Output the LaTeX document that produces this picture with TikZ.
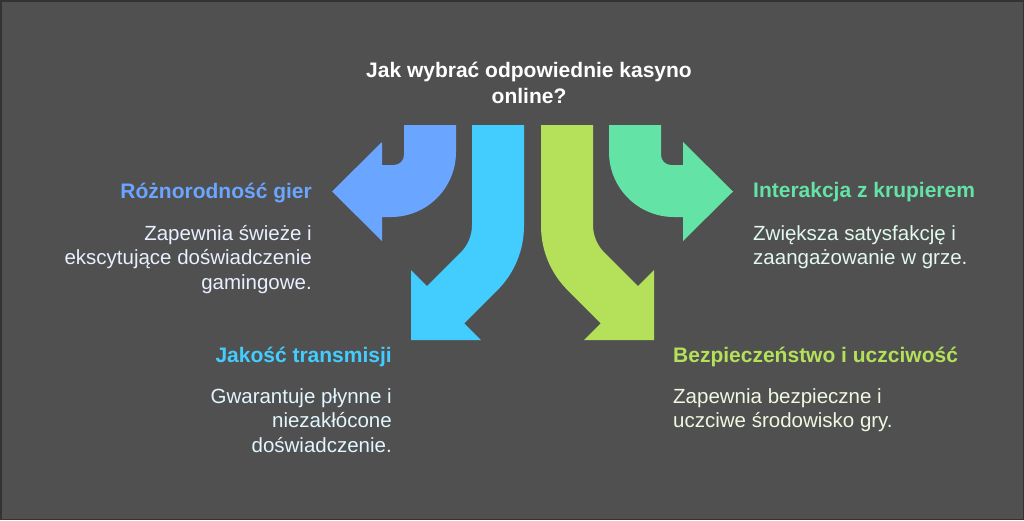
\documentclass[tikz,border=0pt]{standalone}
\usepackage{fontspec}
\setmainfont{Liberation Sans}
\definecolor{canvas}{HTML}{505050}
\definecolor{frame}{HTML}{333333}
\definecolor{variety}{HTML}{6AA6FF}
\definecolor{stream}{HTML}{42CDFE}
\definecolor{safety}{HTML}{B4E05A}
\definecolor{dealer}{HTML}{64E3A6}
\definecolor{varietytext}{HTML}{E8EFFF}
\definecolor{streamtext}{HTML}{E2F6FF}
\definecolor{safetytext}{HTML}{EFF8E0}
\definecolor{dealertext}{HTML}{E2F9EE}
\tikzstyle{question} = [font=\fontsize{21}{26}\selectfont\bfseries,text=white,align=center,inner sep=0pt]
\tikzstyle{heading}  = [font=\fontsize{21}{25}\selectfont\bfseries,inner sep=0pt]
\tikzstyle{detail}   = [font=\fontsize{20.5}{24.5}\selectfont,inner sep=0pt]

\begin{document}
\begin{tikzpicture}[x=1pt,y=-1pt]
      \useasboundingbox (0,0) rectangle (1024,520);
      \fill[frame]  (0,0) rectangle (1024,520);
      \fill[canvas] (1.5,1.5) rectangle (1022.5,518.5);

      % arrows
      \fill[variety] (404,125) -- (456,125) -- (456,152)
            .. controls (456,188) and (427,217) .. (391,217)
            -- (382,217) -- (382,241) -- (332,191.5) -- (382,142) -- (382,165) -- (394,165)
            .. controls (399.5,165) and (404,160.5) .. (404,155) -- cycle;
      \fill[stream] (472,125) -- (524,125) -- (524,226)
            .. controls (524,250.1) and (514.4,273.3) .. (497.3,290.3)
            -- (464.3,323.3) -- (481,340) -- (411,340) -- (411,270) -- (427.1,286.1) -- (460.6,252.6)
            .. controls (467.9,245.3) and (472,235.3) .. (472,225) -- cycle;
      \fill[safety] (593,125) -- (541,125) -- (541,226)
            .. controls (541,250.1) and (550.6,273.3) .. (567.7,290.3)
            -- (600.7,323.3) -- (584,340) -- (654,340) -- (654,270) -- (637.9,286.1) -- (604.4,252.6)
            .. controls (597.1,245.3) and (593,235.3) .. (593,225) -- cycle;
      \fill[dealer] (661,125) -- (609,125) -- (609,152)
            .. controls (609,188) and (638,217) .. (674,217)
            -- (683,217) -- (683,241) -- (733,191.5) -- (683,142) -- (683,165) -- (671,165)
            .. controls (665.5,165) and (661,160.5) .. (661,155) -- cycle;

      % texts (base = last line)
      \node (q)[question,anchor=base] at (529,103) {Jak wybrać odpowiednie kasyno\\online?};

      \node (h1)[heading,text=variety,anchor=base east] at (312,198) {Różnorodność gier};
      \node (d1)[detail,text=varietytext,align=right,anchor=base east] at (312,289)
            {Zapewnia świeże i\\ekscytujące doświadczenie\\gamingowe.};

      \node (h2)[heading,text=stream,anchor=base east] at (392,362) {Jakość transmisji};
      \node (d2)[detail,text=streamtext,align=right,anchor=base east] at (392,452)
            {Gwarantuje płynne i\\niezakłócone\\doświadczenie.};

      \node (h3)[heading,text=safety,anchor=base west] at (673,362) {Bezpieczeństwo i uczciwość};
      \node (d3)[detail,text=safetytext,align=left,anchor=base west] at (673,427.5)
            {Zapewnia bezpieczne i\\uczciwe środowisko gry.};

      \node (h4)[heading,text=dealer,anchor=base west] at (753,197) {Interakcja z krupierem};
      \node (d4)[detail,text=dealertext,align=left,anchor=base west] at (753,264.5)
            {Zwiększa satysfakcję i\\zaangażowanie w grze.};
\end{tikzpicture}
\end{document}
